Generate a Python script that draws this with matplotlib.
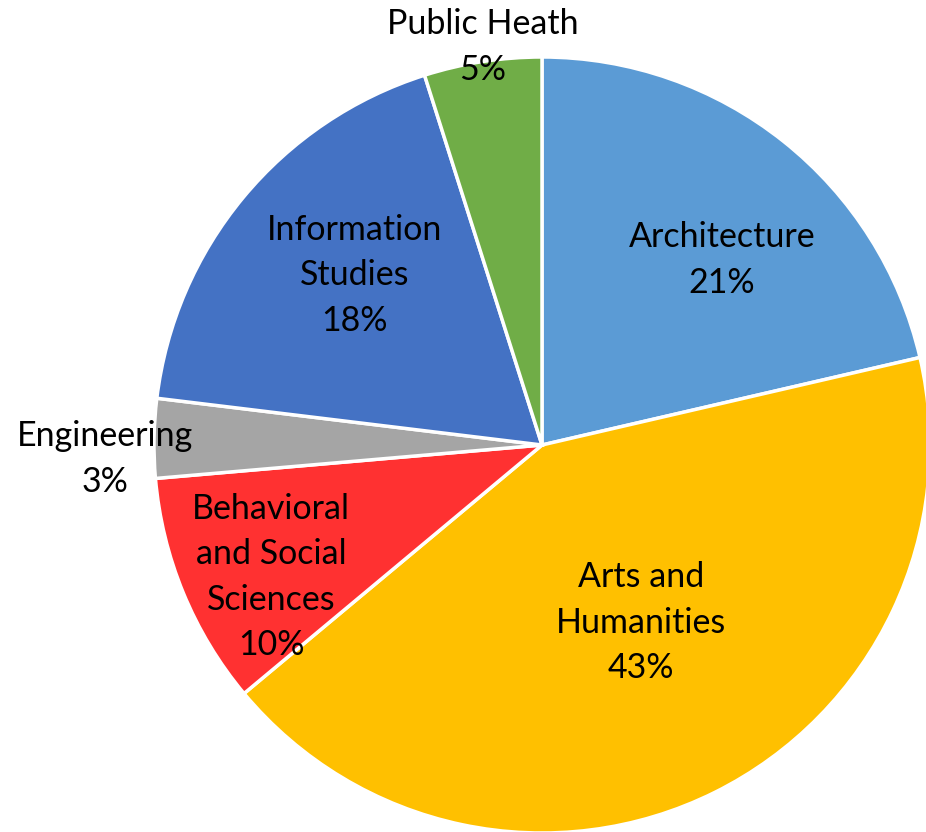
import numpy as np
import matplotlib
matplotlib.use("Agg")
import matplotlib.pyplot as plt

# slices clockwise from 12 o'clock
labels = ["Architecture", "Arts and\nHumanities", "Behavioral\nand Social\nSciences",
          "Engineering", "Information\nStudies", "Public Heath"]
shares = [21.4, 42.6, 9.7, 3.3, 18.2, 4.9]
pct_text = ["21%", "43%", "10%", "3%", "18%", "5%"]
colors = ["#5B9BD5", "#FFC000", "#FF3131", "#A5A5A5", "#4472C4", "#70AD47"]
# label placement: radius and angle nudge (deg) from wedge midpoint
label_r = [0.665, 0.525, 0.776, 1.126, 0.651, 1.037]
label_da = [-5.7, 2.7, 3.6, 2.8, -2.5, -0.35]

plt.rcParams["font.family"] = ["Lato", "DejaVu Sans"]

fig = plt.figure(figsize=(9.26, 8.32), dpi=100)
ax = fig.add_axes([0, 0, 1, 1])
wedges, _ = ax.pie(shares, colors=colors, startangle=90, counterclock=False,
                   wedgeprops=dict(edgecolor="white", linewidth=2.5))

for w, lab, pct, r, da in zip(wedges, labels, pct_text, label_r, label_da):
    mid = np.deg2rad(0.5 * (w.theta1 + w.theta2) + da)
    ax.text(r * np.cos(mid), r * np.sin(mid), f"{lab}\n{pct}", ha="center", va="center",
            fontsize=24.5, color="black", linespacing=1.52)

# centre at (542, 445) px, radius 388 px
ax.set_xlim(-542 / 388, (926 - 542) / 388)
ax.set_ylim(-(832 - 445) / 388, 445 / 388)
ax.set_aspect("auto")
ax.axis("off")
fig.savefig("out.png", dpi=100)
